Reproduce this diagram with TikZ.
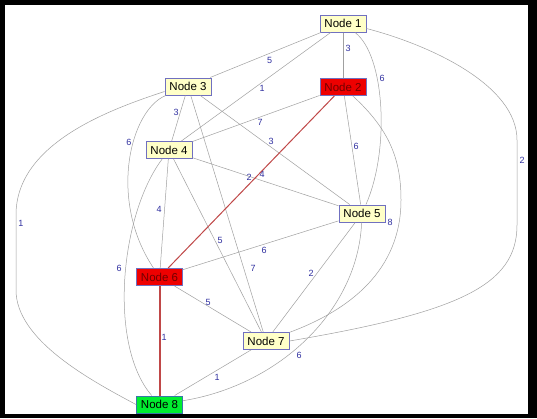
\documentclass[tikz,border=0pt]{standalone}
\usepackage{fontspec}
\setmainfont{Liberation Sans}
\definecolor{ndborder}{HTML}{7070C0}
\definecolor{ndfill}{HTML}{FFFFC8}
\definecolor{ndred}{HTML}{EE0000}
\definecolor{ndredtext}{HTML}{700000}
\definecolor{ndgreen}{HTML}{00EE30}
\definecolor{ndgreenborder}{HTML}{3878A8}
\definecolor{edgegray}{HTML}{A0A0A0}
\definecolor{edgered}{HTML}{C04848}
\definecolor{lblblue}{HTML}{3030A0}
\begin{document}
\begin{tikzpicture}[x=1pt,y=-1pt,
  nd/.style={draw=ndborder, line width=1pt, fill=ndfill, minimum width=46pt,
    minimum height=17pt, inner sep=0pt, font=\fontsize{11.5}{12}\selectfont},
  ndr/.style={nd, fill=ndred, text=ndredtext},
  ndg/.style={nd, fill=ndgreen, draw=ndgreenborder},
  ed/.style={draw=edgegray, line width=0.5pt},
  edr/.style={draw=edgered, line width=1pt},
  lbl/.style={text=lblblue, inner sep=0pt, font=\fontsize{9}{9}\selectfont}]
% frame
\fill[black] (0,0) rectangle (537,418);
\fill[white] (5,5) rectangle (528,414);
\useasboundingbox (0,0) rectangle (537,418);
% nodes
\node[nd]  (n1) at (343,23.5) {Node 1};
\node[ndr] (n2) at (343,87)   {Node 2};
\node[nd]  (n3) at (188,86.5) {Node 3};
\node[nd]  (n4) at (169,150)  {Node 4};
\node[nd]  (n5) at (362,213.5) {Node 5};
\node[ndr] (n6) at (159.5,277) {Node 6};
\node[nd]  (n7) at (266,341)  {Node 7};
\node[ndg] (n8) at (159.5,404.5) {Node 8};
% straight edges
\draw[ed] (n1) -- (n2);
\draw[ed] (n1) -- (n3);
\draw[ed] (n1) -- (n4);
\draw[ed] (n2) -- (n4);
\draw[ed] (n2) -- (n5);
\draw[ed] (n3) -- (n4);
\draw[ed] (n3) -- (n5);
\draw[ed] (n3) -- (n7);
\draw[ed] (n4) -- (n5);
\draw[ed] (n4) -- (n6);
\draw[ed] (n4) -- (n7);
\draw[ed] (n5) -- (n6);
\draw[ed] (n5) -- (n7);
\draw[ed] (n6) -- (n7);
\draw[ed] (n7) -- (n8);
\draw[edr] (n2) -- (n6);
\draw[edr, line width=2pt] (n6) -- (n8);
% curved edges
\draw[ed] (n1) .. controls (385,55) and (390,150) .. (n5);
\draw[ed] ([yshift=-5pt]n1.east) .. controls (430,45) and (517,85) .. (517,140) -- (517,225)
  .. controls (517,285) and (460,312) .. (n7.east);
\draw[ed] (n2) .. controls (390,130) and (401,160) .. (401,200)
  .. controls (401,270) and (350,310) .. (n7);
\draw[ed] (n3) .. controls (130,110) and (108,200) .. (n6);
\draw[ed] ([yshift=-5pt]n3.west) .. controls (105,111) and (16,145) .. (16,215) -- (16,290)
  .. controls (16,340) and (90,380) .. (n8.west);
\draw[ed] (n4) .. controls (120,215) and (108,345) .. (n8);
\draw[ed] (n5) .. controls (358,310) and (280,385) .. (n8);
% labels
\node[lbl] (l12) at (348,48) {3};
\node[lbl] (l13) at (269.5,60.5) {5};
\node[lbl] (l15) at (382,78) {6};
\node[lbl] (l14) at (262,88) {1};
\node[lbl] (l17) at (522,160) {2};
\node[lbl] (l24) at (260,122) {7};
\node[lbl] (l35) at (271,141) {3};
\node[lbl] (l34) at (176,112) {3};
\node[lbl] (l36) at (129,142) {6};
\node[lbl] (l45) at (249,177) {2};
\node[lbl] (l26) at (262,174) {4};
\node[lbl] (l25) at (356,146) {6};
\node[lbl] (l27) at (390,222) {8};
\node[lbl] (l38) at (21,223) {1};
\node[lbl] (l46) at (159,209) {4};
\node[lbl] (l48) at (119,268) {6};
\node[lbl] (l47) at (220,240) {5};
\node[lbl] (l56) at (264,250) {6};
\node[lbl] (l37) at (253,268) {7};
\node[lbl] (l67) at (208,302) {5};
\node[lbl] (l57) at (311,273) {2};
\node[lbl] (l58) at (299,355) {6};
\node[lbl] (l68) at (164,337) {1};
\node[lbl] (l78) at (217,377) {1};
\end{tikzpicture}
\end{document}
